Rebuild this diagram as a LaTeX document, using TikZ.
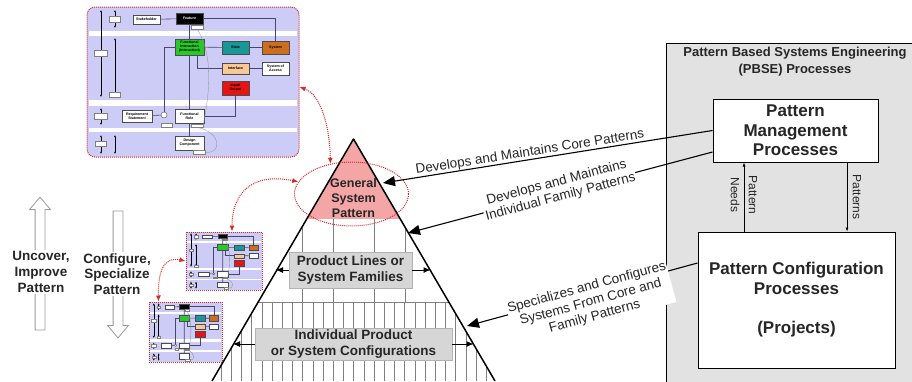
\documentclass[tikz,border=0pt]{standalone}
\usepackage{fontspec}
\setmainfont{Liberation Sans}
\usetikzlibrary{arrows.meta,shapes.geometric,shapes.arrows,calc}

\definecolor{pinkpat}{RGB}{244,166,166}
\definecolor{lavender}{RGB}{204,204,246}
\definecolor{panelgray}{RGB}{226,226,226}
\definecolor{boxgray}{RGB}{214,214,214}
\definecolor{thumbred}{RGB}{214,40,40}
\definecolor{minigreen}{RGB}{40,200,40}
\definecolor{miniteal}{RGB}{25,150,150}
\definecolor{miniorange}{RGB}{205,110,30}
\definecolor{minipeach}{RGB}{250,200,150}
\definecolor{minired}{RGB}{232,20,20}
\definecolor{mininavy}{RGB}{70,70,110}

\tikzset{
  gridline/.style={draw=black!50, line width=0.6pt},
  layerbox/.style={fill=boxgray, draw=black!30, line width=0.6pt, inner sep=1pt, align=center, font=\bfseries\fontsize{13.5}{15.7}\selectfont, text=black!85},
  sidearrow/.style={line width=1pt, -{Latex[length=7pt,width=6pt]}},
  bigarrow/.style={line width=1.1pt, -{Triangle[length=12pt,width=10pt]}},
  thinarrow/.style={line width=0.6pt, -{Latex[length=4pt,width=3pt]}},
  procbox/.style={draw, fill=white, line width=1pt, align=center, font=\bfseries\fontsize{17}{19.5}\selectfont, text=black!85},
  arrowlabel/.style={align=center, inner sep=1pt, font=\fontsize{13.5}{15}\selectfont, text=black!85},
  hollowarrow/.style={single arrow, draw=black!40, fill=white, line width=0.8pt, inner sep=4.5pt, single arrow head extend=5.5pt, single arrow tip angle=80},
  sidetext/.style={fill=white, inner sep=1pt, align=center, font=\bfseries\fontsize{13.5}{15.8}\selectfont, text=black!85},
  thumbframe/.style={draw=thumbred, densely dotted, line width=1pt, fill=lavender, inner sep=0pt},
  linkarrow/.style={draw=thumbred, densely dotted, line width=1pt, {Latex[length=6pt,width=5pt]}-{Latex[length=6pt,width=5pt]}},
  mininode/.style={draw=black!70, line width=0.3pt, inner sep=0pt, align=center, transform shape, font=\bfseries\fontsize{3.6}{4}\selectfont},
  minitag/.style={draw=black!50, fill=white, line width=0.2pt, inner sep=0pt, transform shape},
  miniline/.style={draw=mininavy, line width=0.6pt},
  layerarrow/.style={line width=0.5pt, {Latex[length=2.2pt,width=2pt]}-{Latex[length=2.2pt,width=2pt]}},
}

\newcommand{\minilabel}[1]{#1}
% the small pattern model drawn inside each thumbnail (local 212 x 150 frame)
\newcommand{\patternmodel}{%
  \fill[white] (2,24) rectangle (210,29);
  \fill[white] (2,93) rectangle (210,99);
  \fill[white] (2,121) rectangle (210,125);
  \draw[layerarrow] (14,3) -- (14,90);
  \draw[layerarrow] (14,101) -- (14,118);
  \draw[layerarrow] (14,128) -- (14,147);
  \draw[layerarrow] (28,3) -- (28,21);
  \draw[layerarrow] (28,31) -- (28,90);
  \draw[layerarrow] (28,128) -- (28,147);
  \node[minitag, minimum width=13, minimum height=6] (tagA) at (14,46) {};
  \node[minitag, minimum width=11, minimum height=6] (tagB) at (28,12) {};
  \node[minitag, minimum width=11, minimum height=5] (tagC) at (28,88) {};
  \node[minitag, minimum width=13, minimum height=6] (tagD) at (14,109) {};
  \node[minitag, minimum width=11, minimum height=5] (tagE) at (14,137) {};
  \node[mininode, fill=white, minimum width=27, minimum height=9] (stk) at (59.5,12.5) {\minilabel{Stakeholder}};
  \node[mininode, fill=black, text=white, minimum width=27, minimum height=11] (feat) at (102.5,11.5) {\minilabel{Feature}};
  \node[mininode, fill=minigreen, minimum width=29, minimum height=16] (fint) at (102.5,40) {\minilabel{Functional\\Interaction\\(Interaction)}};
  \node[mininode, fill=miniteal, minimum width=27, minimum height=13] (state) at (148.5,40.5) {\minilabel{State}};
  \node[mininode, fill=miniorange, minimum width=27, minimum height=13] (sys) at (188.5,40.5) {\minilabel{System}};
  \node[mininode, fill=minipeach, minimum width=27, minimum height=11] (intf) at (148.5,61.5) {\minilabel{Interface}};
  \node[mininode, fill=white, minimum width=27, minimum height=13] (soa) at (188.5,61.5) {\minilabel{System of\\Access}};
  \node[mininode, fill=minired, minimum width=27, minimum height=14] (io) at (148.5,81) {\minilabel{Input/\\Output}};
  \node[mininode, fill=white, minimum width=30, minimum height=12] (req) at (50,109) {\minilabel{Requirement\\Statement}};
  \node[draw=black!70, fill=white, circle, minimum size=6, inner sep=0pt, transform shape] (junc) at (77,108) {};
  \node[mininode, fill=white, minimum width=29, minimum height=14] (role) at (102.5,109) {\minilabel{Functional\\Role}};
  \node[mininode, fill=white, minimum width=29, minimum height=14] (dcomp) at (102.5,136) {\minilabel{Design\\Component}};
  \node[minitag, minimum width=12, minimum height=3.5] (tagF) at (110,20) {};
  \node[minitag, minimum width=11, minimum height=3.5] (tagG) at (80,118) {};
  \node[minitag, minimum width=12, minimum height=3.5] (tagH) at (110,118.5) {};
  \node[minitag, minimum width=12, minimum height=3.5] (tagI) at (112,145) {};
  \draw[miniline] (stk) -- (feat);
  \draw[miniline] (feat.east) -| (sys.north);
  \draw[miniline] (feat) -- (fint);
  \draw[miniline] (fint) -- (state);
  \draw[miniline] (state) -- (sys);
  \draw[miniline] (fint) -- (role);
  \draw[miniline] (role) -- (dcomp);
  \draw[miniline] ($(fint.south)!0.5!(fint.south east)$) |- (intf.west);
  \draw[miniline] (intf) -- (soa);
  \draw[miniline] (io.south) |- (role.east);
  \draw[miniline] (req) -- (junc);
  \draw[miniline] (junc.north) |- (fint.west);
  \draw[black!45, line width=0.3pt] (tagF.south) .. controls (125,45) and (124,80) .. (tagH.east);
  \draw[black!45, line width=0.3pt] (tagH.south) .. controls (135,125) and (135,148) .. (tagI.east);
}

\begin{document}
\begin{tikzpicture}[x=1pt, y=-1pt]
  \useasboundingbox (0,0) rectangle (912,381);
  \clip (0,0) rectangle (912,381);

  % pattern thumbnails
  \node[thumbframe, rounded corners=8pt, minimum width=212, minimum height=150] (bigthumb) at (193,82) {};
  \begin{scope}[shift={(87,7)}]
    \patternmodel
  \end{scope}
  \node[thumbframe, minimum width=76, minimum height=58] (thumbA) at (224,261) {};
  \begin{scope}[shift={(186,232)}, xscale=0.3585, yscale=0.3867]
    \renewcommand{\minilabel}[1]{}
    \patternmodel
  \end{scope}
  \node[thumbframe, minimum width=73, minimum height=60] (thumbB) at (185.5,332) {};
  \begin{scope}[shift={(149,302)}, xscale=0.3443, yscale=0.4]
    \renewcommand{\minilabel}[1]{}
    \patternmodel
  \end{scope}

  % up and down arrows
  \node[hollowarrow, minimum height=133, shape border rotate=90] (uncoverarrow) at (40,266.5) {};
  \node[hollowarrow, minimum height=127, shape border rotate=270] (configarrow) at (118,271.5) {};
  \node[sidetext] (uncovertext) at (41,272) {Uncover,\\Improve\\Pattern};
  \node[sidetext] (configtext) at (117,274) {Configure,\\Specialize\\Pattern};

  % pyramid
  \coordinate (apex) at (353.5,139);
  \coordinate (baseL) at (212,381);
  \coordinate (baseR) at (495,381);
  \begin{scope}
    \clip (baseL) -- (apex) -- (baseR) -- cycle;
    \fill[pinkpat] (200,130) rectangle (510,219);
    \foreach \x in {302,333,374,405}
      \draw[gridline] (\x,219) -- (\x,302);
    \draw[gridline] (200,302) -- (510,302);
    \foreach \k in {0,...,29}
      \draw[gridline] (200.7+10.2*\k,302) -- (200.7+10.2*\k,381);
  \end{scope}
  \draw[line width=1.5pt, line join=round] (baseL) -- (apex) -- (baseR);

  \node[ellipse, draw=thumbred, densely dotted, line width=1pt, minimum width=114, minimum height=64, inner sep=0pt] (gsp) at (351.5,194) {};
  \node[align=center, font=\bfseries\fontsize{12.5}{15}\selectfont, text=black!85] (gsptext) at (353.5,198) {General\\System\\Pattern};

  \node[layerbox, minimum width=123, minimum height=36] (families) at (350.5,270) {Product Lines or\\System Families};
  \node[layerbox, minimum width=197, minimum height=32] (configs) at (353.5,344) {Individual Product\\or System Configurations};
  \coordinate (famL) at (276,270);
  \coordinate (famR) at (430.5,270);
  \coordinate (cfgL) at (233,344);
  \coordinate (cfgR) at (473.5,344);
  \draw[sidearrow] (families) -- (famL);
  \draw[sidearrow] (families) -- (famR);
  \draw[sidearrow] (configs) -- (cfgL);
  \draw[sidearrow] (configs) -- (cfgR);

  % links between thumbnails and the pattern
  \draw[linkarrow] ([yshift=-5pt]bigthumb.east) .. controls (322,95) and (330,130) .. (gsp.125);
  \draw[linkarrow] (gsp.167) .. controls (250,172) and (232,195) .. ([xshift=8pt]thumbA.north);
  \draw[linkarrow] (thumbA.west) .. controls (162,256) and (158,275) .. ([xshift=-27pt]thumbB.north);

  % PBSE processes
  \node[draw, fill=panelgray, line width=0.8pt, minimum width=270, minimum height=360, anchor=north west] (pbse) at (666,43) {};
  \node[align=center, font=\bfseries\fontsize{13}{17}\selectfont, text=black!85] (pbsetitle) at (795,62) {Pattern Based Systems Engineering\\(PBSE) Processes};
  \node[procbox, minimum width=165, minimum height=63] (mgmt) at (795.5,130.5) {Pattern\\Management\\Processes};
  \node[procbox, minimum width=197, minimum height=136] (config) at (796.5,300) {Pattern Configuration\\Processes\\[20pt](Projects)};
  \draw[thinarrow] ([xshift=-52.5pt]config.north) -- ([xshift=-51.5pt]mgmt.south);
  \draw[thinarrow] ([xshift=51.5pt]mgmt.south) -- ([xshift=50.5pt]config.north);
  \node[rotate=-90, align=center, font=\fontsize{12}{18}\selectfont, text=black!85] (needslabel) at (744,195) {Pattern\\Needs};
  \node[rotate=-90, font=\fontsize{12}{14}\selectfont, text=black!85] (patternslabel) at (857,197) {Patterns};

  % process arrows into the pyramid
  \coordinate (coreTip) at (383,183);
  \coordinate (famTip) at (408,233);
  \coordinate (cfgTip) at (467,326);
  \draw[bigarrow] (mgmt.west) -- (coreTip);
  \draw[bigarrow] ([yshift=-21.5pt]mgmt.west) -- (famTip);
  \draw[bigarrow] ([yshift=37pt]config.west) -- (cfgTip);
  \node[arrowlabel, rotate=9] (corelabel) at (530,152.4) {Develops and Maintains Core Patterns};
  \node[arrowlabel, fill=white, rotate=14.9] (famlabel) at (558.6,190) {Develops and Maintains\\Individual Family Patterns};
  \node[arrowlabel, fill=white, rotate=15.3] (cfglabel) at (590.7,302.3) {Specializes and Configures\\Systems From Core and\\Family Patterns};
\end{tikzpicture}
\end{document}
